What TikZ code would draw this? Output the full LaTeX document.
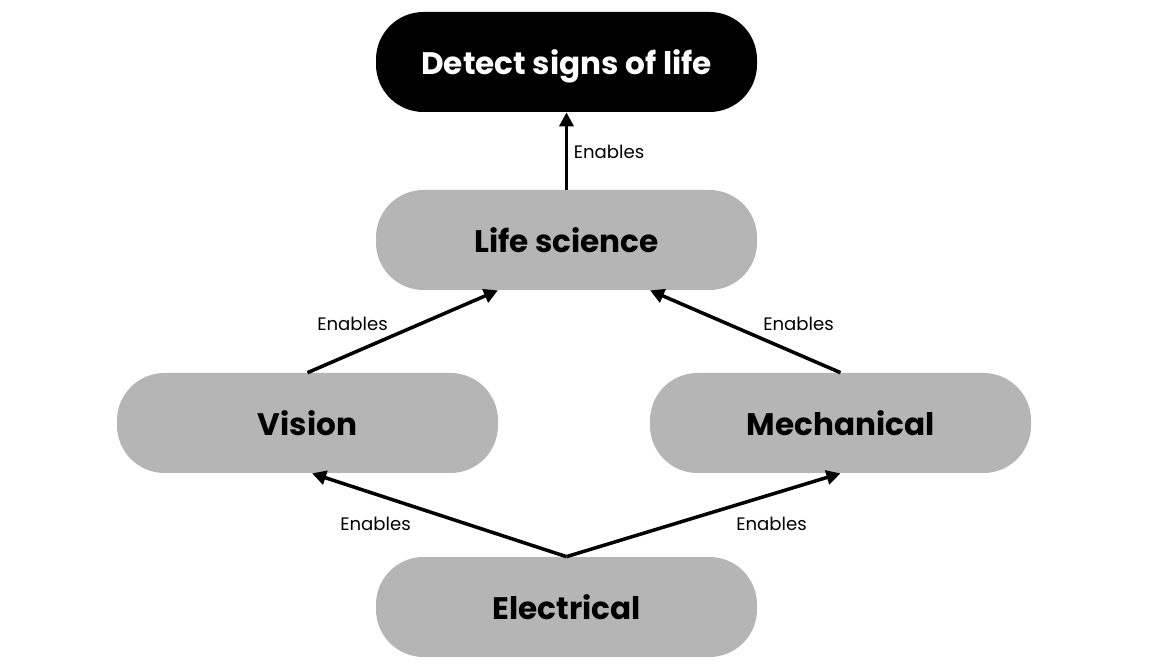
\documentclass[tikz,border=0pt]{standalone}
\usepackage{fontspec}
\setmainfont{Poppins}
\usetikzlibrary{
  arrows.meta,
  positioning
}
\definecolor{boxgray}{HTML}{B5B5B5}

\tikzset{
  goalbox/.style={rectangle, rounded corners=0.95cm, fill=black, text=white, text depth=0pt,
    minimum width=7.62cm, minimum height=2.0cm, font=\fontsize{17.7}{20}\selectfont\bfseries},
  areabox/.style={rectangle, rounded corners=0.95cm, fill=boxgray, text=black, text depth=0pt,
    minimum width=7.62cm, minimum height=2.0cm, font=\fontsize{17.7}{20}\selectfont\bfseries},
  enables/.style={line width=2pt, -{Triangle[length=8pt,width=8pt]}},
  lbl/.style={font=\fontsize{10.3}{12}\selectfont, inner sep=0pt}
}

\begin{document}
\begin{tikzpicture}
  \useasboundingbox (0,0) rectangle (23.08,-13.4);
  \node[goalbox] (detect) at (11.33,-1.24) {Detect signs of life};
  \node[areabox] (life)   at (11.33,-4.80) {Life science};
  \node[areabox] (vision) at (6.15,-8.46)  {Vision};
  \node[areabox] (mech)   at (16.81,-8.46) {Mechanical};
  \node[areabox] (elec)   at (11.33,-12.14) {Electrical};
  \draw[enables] (life.north) -- (detect.south);
  \draw[enables] (vision.north) -- ([xshift=-1.37cm]life.south);
  \draw[enables] (mech.north) -- ([xshift=1.67cm]life.south);
  \draw[enables] (elec.north) -- ([xshift=0.09cm]vision.south);
  \draw[enables] (elec.north) -- (mech.south);
  \node[lbl] (l1) at (12.18,-3.04) {Enables};
  \node[lbl] (l2) at (7.05,-6.47)  {Enables};
  \node[lbl] (l3) at (15.97,-6.47) {Enables};
  \node[lbl] (l4) at (7.51,-10.47) {Enables};
  \node[lbl] (l5) at (15.43,-10.47) {Enables};
\end{tikzpicture}
\end{document}
